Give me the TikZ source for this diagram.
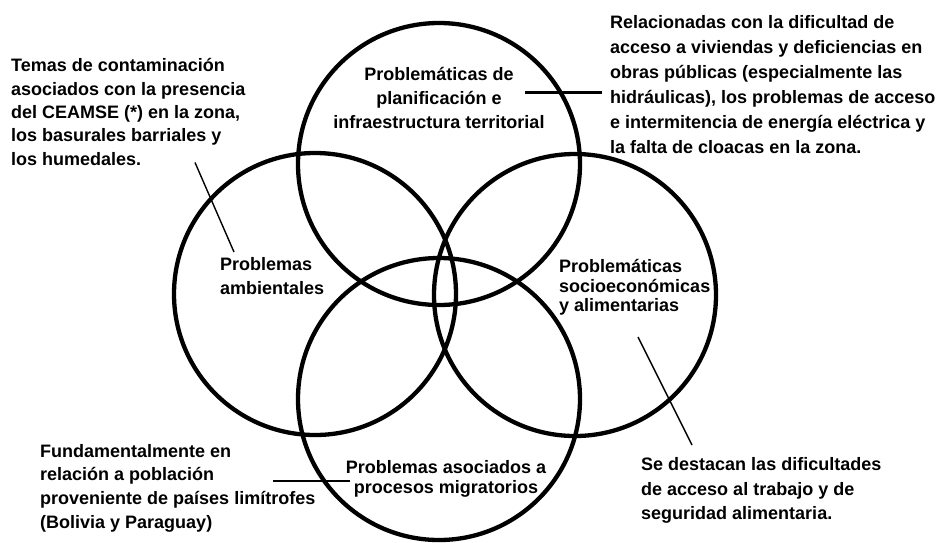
\documentclass[tikz,border=0pt]{standalone}
\usepackage{fontspec}
\setmainfont{Liberation Sans}
\begin{document}
\begin{tikzpicture}[x=1pt,y=-1pt,
    ring/.style={line width=4.3pt},
    thinlead/.style={line width=1.4pt},
    thicklead/.style={line width=2.5pt},
    notetext/.style={inner sep=0pt,align=left,font=\bfseries\fontsize{18}{#1}\selectfont},
    ringtext/.style={inner sep=0pt,font=\bfseries\fontsize{18}{#1}\selectfont}]
  \def\rad{141}
  \useasboundingbox (0,0) rectangle (939,542);

  % the four sets
  \coordinate (plan) at (439,164);
  \coordinate (amb)  at (315,294);
  \coordinate (socio) at (575,295);
  \coordinate (migr) at (439,399);
  \draw[ring] (plan) circle[radius=\rad];
  \draw[ring] (amb) circle[radius=\rad];
  \draw[ring] (socio) circle[radius=\rad];
  \draw[ring] (migr) circle[radius=\rad];

  % (base = baseline of the last line)
  \node[ringtext=24.2,align=center,anchor=base] (plantxt) at (439,128.6)
    {Problemáticas de\\planificación e\\infraestructura territorial};
  \node[ringtext=24.2,align=left,anchor=base west] (ambtxt) at (220,294.5)
    {Problemas\\ambientales};
  \node[ringtext=19.4,align=left,anchor=base west] (sociotxt) at (559,311.7)
    {Problemáticas\\socioeconómicas\\y alimentarias};
  \node[ringtext=20,align=center,anchor=base] (migrtxt) at (446,493.6)
    {Problemas asociados a\\procesos migratorios};

  % notes
  \node[notetext=23.3,anchor=base west] (ambnote) at (11,165)
    {Temas de contaminación\\asociados con la presencia\\del CEAMSE (*) en la zona,\\los basurales barriales y\\los humedales.};
  \node[notetext=25,anchor=base west] (plannote) at (610,153.3)
    {Relacionadas con la dificultad de\\acceso a viviendas y deficiencias en\\obras públicas (especialmente las\\hidráulicas), los problemas de acceso\\e intermitencia de energía eléctrica y\\la falta de cloacas en la zona.};
  \node[notetext=23.7,anchor=base west] (migrnote) at (40,528.3)
    {Fundamentalmente en\\relación a población\\proveniente de países limítrofes\\(Bolivia y Paraguay)};
  \node[notetext=24.3,anchor=base west] (socionote) at (641,519.3)
    {Se destacan las dificultades\\de acceso al trabajo y de\\seguridad alimentaria.};

  % leaders
  \coordinate (ambA) at (195,162.5);
  \coordinate (ambB) at (234,252);
  \coordinate (planA) at (525,92.6);
  \coordinate (planB) at (602,92.6);
  \coordinate (migrA) at (273,481);
  \coordinate (migrB) at (350,481);
  \coordinate (socioA) at (638,337);
  \coordinate (socioB) at (692,445);
  \draw[thinlead] (ambA) -- (ambB);
  \draw[thicklead] (planA) -- (planB);
  \draw[thicklead] (migrA) -- (migrB);
  \draw[thinlead] (socioA) -- (socioB);
\end{tikzpicture}
\end{document}
